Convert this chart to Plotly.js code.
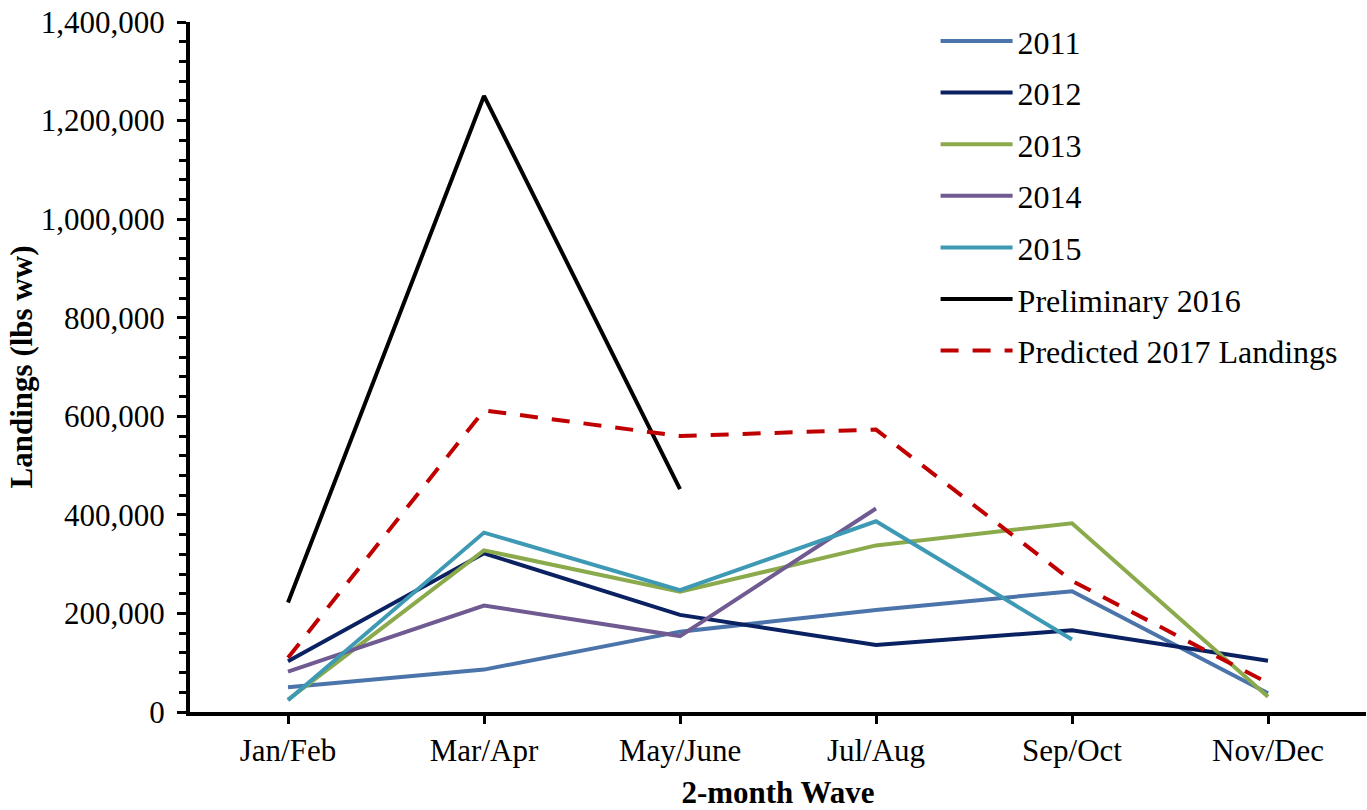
<!DOCTYPE html>
<html>
<head>
<meta charset="utf-8">
<script src="https://cdn.plot.ly/plotly-3.0.1.min.js"></script>
<style>html,body{margin:0;padding:0;background:#fff;}#chart{width:1367px;height:810px;}</style>
</head>
<body>
<div id="chart"></div>
<script>
const months = ["Jan/Feb", "Mar/Apr", "May/June", "Jul/Aug", "Sep/Oct", "Nov/Dec"];
const seriesNames = ["2011", "2012", "2013", "2014", "2015", "Preliminary 2016", "Predicted 2017 Landings"];
const y2011 = [50000, 86000, 163000, 207000, 245000, 38000];
const y2012 = [103000, 322000, 197000, 136000, 166000, 104000];
const y2013 = [25000, 328000, 244000, 338000, 383000, 31000];
const y2014 = [82000, 216000, 154000, 413000];
const y2015 = [24000, 364000, 247000, 387000, 147000];
const y2016 = [222000, 1250000, 452000];
const y2017 = [110000, 612000, 560000, 573000, 266000, 59000];
const yTicks = [0, 200000, 400000, 600000, 800000, 1000000, 1200000, 1400000];

const colors = ["#4a74aa", "#0a2162", "#8aaa4c", "#6f5a91", "#3e9ab4", "#000000", "#c00000"];
const allY = [y2011, y2012, y2013, y2014, y2015, y2016, y2017];

const font = "Liberation Serif, Times New Roman, serif";

const traces = allY.map((ys, i) => ({
  type: "scatter",
  mode: "lines",
  name: seriesNames[i],
  legendgroup: "g" + i,
  x: months.slice(0, ys.length),
  y: ys,
  line: {color: colors[i], width: 4, dash: i === 6 ? "18px,14px" : "solid"},
  xaxis: "x", yaxis: "y"
}));

const layout = {
  width: 1367, height: 810,
  margin: {l: 190, r: 1, t: 22, b: 98},
  paper_bgcolor: "#fff", plot_bgcolor: "#fff",
  font: {family: font, size: 31, color: "#000"},
  showlegend: true,
  legend: {
    x: 0.634, y: 1.012, xanchor: "left", yanchor: "top",
    font: {family: font, size: 32, color: "#000"},
    bgcolor: "rgba(0,0,0,0)", traceorder: "grouped", tracegroupgap: 7,
    itemwidth: 72
  },
  xaxis: {
    type: "category", categoryarray: months, range: [-0.5, 5.5],
    showline: true, linecolor: "#000", linewidth: 4,
    ticks: "outside", ticklen: 8, tickwidth: 3, tickcolor: "#000",
    tickfont: {family: font, size: 31}, ticklabelstandoff: 0,
    showgrid: false, zeroline: false,
    title: {text: "<b>2-month Wave</b>", font: {family: font, size: 31}, standoff: 16}
  },
  xaxis2: {
    type: "linear", range: [-0.5, 5.5], overlaying: "x", anchor: "y",
    tickvals: [0, 1, 2, 3, 4, 5, 5.5], ticks: "inside", ticklen: 8, tickwidth: 3, tickcolor: "#000",
    showticklabels: false, showgrid: false, zeroline: false, showline: false
  },
  xaxis3: {
    type: "linear", range: [-0.5, 5.5], overlaying: "x", anchor: "y",
    tickvals: [5.5], ticks: "outside", ticklen: 8, tickwidth: 3, tickcolor: "#000",
    showticklabels: false, showgrid: false, zeroline: false, showline: false
  },
  yaxis: {
    range: [0, 1400000], tickvals: yTicks, tickformat: ",d",
    showline: true, linecolor: "#000", linewidth: 4,
    ticks: "outside", ticklen: 9, tickwidth: 3, tickcolor: "#000",
    minor: {dtick: 40000, ticks: "outside", ticklen: 7, tickwidth: 3, tickcolor: "#000"},
    tickfont: {family: font, size: 31}, ticklabelstandoff: 6,
    showgrid: false, zeroline: false,
    title: {text: "<b>Landings (lbs ww)</b>", font: {family: font, size: 31}, standoff: 0}
  },
  yaxis2: {
    range: [0, 1400000], overlaying: "y", anchor: "x",
    tickvals: yTicks, ticks: "inside", ticklen: 9, tickwidth: 3, tickcolor: "#000",
    showticklabels: false, showgrid: false, zeroline: false, showline: false
  }
};

Plotly.newPlot("chart", traces, layout, {displayModeBar: false, staticPlot: true});
</script>
</body>
</html>
